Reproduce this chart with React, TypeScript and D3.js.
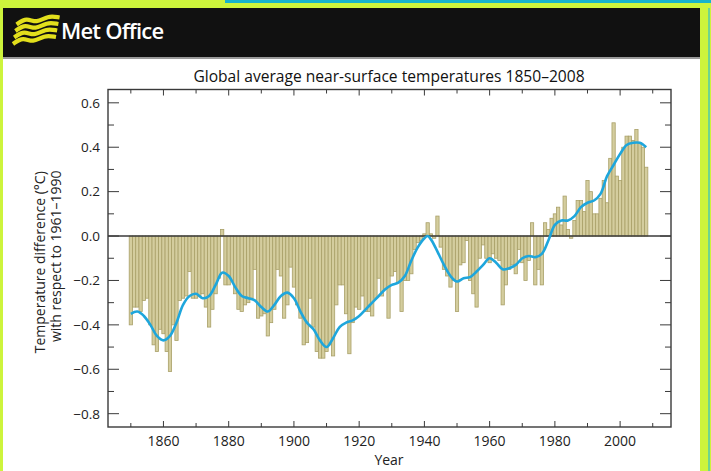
import React from "react";
import * as d3 from "d3";

// annual global anomalies (°C vs 1961-1990), one per year from 1850
const firstYear = 1850;
const anomalies = [
  -0.40, -0.32, -0.32, -0.34, -0.29, -0.28, -0.40, -0.49, -0.52, -0.42,
  -0.44, -0.52, -0.61, -0.40, -0.47, -0.29, -0.28, -0.27, -0.16, -0.28,
  -0.28, -0.27, -0.26, -0.32, -0.41, -0.33, -0.26, -0.19, 0.03, -0.22,
  -0.22, -0.20, -0.26, -0.33, -0.34, -0.31, -0.30, -0.28, -0.15, -0.37,
  -0.36, -0.35, -0.45, -0.39, -0.33, -0.15, -0.18, -0.37, -0.31, -0.14,
  -0.23, -0.31, -0.37, -0.49, -0.48, -0.28, -0.41, -0.52, -0.55, -0.55,
  -0.52, -0.49, -0.54, -0.31, -0.22, -0.22, -0.35, -0.53, -0.39, -0.32,
  -0.33, -0.27, -0.34, -0.34, -0.36, -0.28, -0.19, -0.27, -0.24, -0.37,
  -0.18, -0.16, -0.21, -0.34, -0.20, -0.20, -0.17, -0.06, -0.03, -0.02,
  0.01, 0.06, 0.01, -0.01, 0.09, -0.05, -0.15, -0.18, -0.23, -0.20,
  -0.34, -0.13, -0.12, -0.02, -0.20, -0.26, -0.32, -0.10, -0.04, -0.10,
  -0.12, -0.08, -0.10, -0.11, -0.31, -0.22, -0.15, -0.13, -0.17, -0.06,
  -0.12, -0.20, -0.11, 0.06, -0.22, -0.15, -0.22, 0.06, 0.03, 0.08,
  0.10, 0.13, 0.05, 0.18, 0.03, -0.01, 0.07, 0.16, 0.16, 0.11,
  0.25, 0.20, 0.10, 0.10, 0.17, 0.25, 0.15, 0.35, 0.51, 0.27,
  0.25, 0.40, 0.45, 0.45, 0.43, 0.48, 0.42, 0.40, 0.31,
];

// smoothed curve
const smoothYears = [
  1850, 1852, 1854, 1856, 1858, 1860, 1862, 1864, 1866, 1868, 1870, 1872, 1874,
  1876, 1878, 1880, 1882, 1884, 1886, 1888, 1890, 1892, 1894, 1896, 1898, 1900,
  1902, 1904, 1906, 1908, 1910, 1912, 1914, 1916, 1918, 1920, 1922, 1924, 1926,
  1928, 1930, 1932, 1934, 1936, 1938, 1940, 1941, 1942, 1944, 1946, 1948, 1950,
  1952, 1954, 1956, 1958, 1960, 1962, 1964, 1966, 1968, 1970, 1972, 1974, 1976,
  1978, 1980, 1982, 1984, 1986, 1988, 1990, 1992, 1994, 1996, 1998, 2000, 2002,
  2004, 2006, 2008,
];
const smoothValues = [
  -0.35, -0.34, -0.36, -0.40, -0.45, -0.47, -0.45, -0.39, -0.31, -0.27, -0.26,
  -0.28, -0.27, -0.22, -0.165, -0.18, -0.23, -0.27, -0.28, -0.29, -0.32, -0.34,
  -0.31, -0.27, -0.255, -0.28, -0.34, -0.39, -0.42, -0.47, -0.50, -0.46, -0.41,
  -0.39, -0.38, -0.36, -0.33, -0.30, -0.27, -0.24, -0.22, -0.21, -0.18, -0.11,
  -0.05, -0.01, 0.0, -0.015, -0.07, -0.13, -0.18, -0.205, -0.19, -0.185, -0.16,
  -0.13, -0.10, -0.12, -0.15, -0.145, -0.13, -0.10, -0.09, -0.095, -0.08, -0.02,
  0.05, 0.07, 0.07, 0.09, 0.13, 0.15, 0.16, 0.19, 0.27, 0.32, 0.37, 0.41, 0.42,
  0.42, 0.40,
];

const yMajorTicks = [0.6, 0.4, 0.2, 0.0, -0.2, -0.4, -0.6, -0.8];
const yMinorTicks = [0.5, 0.3, 0.1, -0.1, -0.3, -0.5, -0.7];
const xMajorTicks = [1860, 1880, 1900, 1920, 1940, 1960, 1980, 2000];
const xMinorTicks = [1850, 1870, 1890, 1910, 1930, 1950, 1970, 1990, 2010];

const frame = { left: 108, right: 671, top: 89.5, bottom: 427 };
const font = "'Open Sans', 'DejaVu Sans', sans-serif";
const lime = "#cdf43c";
const axisColor = "#3a3a3a";

const fmt = (v: number) => (v < 0 ? "\u2212" : "") + Math.abs(v).toFixed(1);

export default function App() {
  const x = d3.scaleLinear().domain([1843, 2015.6]).range([frame.left, frame.right]);
  const y = d3.scaleLinear().domain([-0.86, 0.66]).range([frame.bottom, frame.top]);
  const bw = x(firstYear + 1) - x(firstYear);

  const curve = d3
    .line<number>()
    .x((_, i) => x(smoothYears[i]))
    .y((d) => y(d))
    .curve(d3.curveCatmullRom.alpha(0.5));

  // logo stripes (decoration)
  const wave = d3.line<[number, number]>().curve(d3.curveBasis);
  const stripes = [0, 1, 2, 3].map((i) => {
    const ox = 13 + i * 1.2;
    const oy = 44 - i * 6.5;
    return wave([
      [ox, oy],
      [ox + 10, oy - 7],
      [ox + 20, oy - 1],
      [ox + 31, oy - 9],
      [ox + 43, oy - 7],
    ]);
  });

  const midY = (frame.top + frame.bottom) / 2 + 4;

  return (
    <svg
      width={711}
      height={471}
      style={{ position: "absolute", left: 0, top: 0, display: "block" }}
      fontFamily={font}
    >
      <rect x={0} y={0} width={711} height={471} fill={lime} />
      <rect x={225} y={0} width={486} height={3} fill="#17b3cc" />
      <rect x={3} y={8} width={697} height={463} fill="#ffffff" />
      <rect x={3} y={8} width={697} height={49} fill="#111111" />
      <rect x={3} y={57} width={697} height={2} fill="#9a9a9a" />
      <rect x={708} y={8} width={2} height={463} fill="#2fc0c8" opacity={0.6} />

      {/* logo */}
      {stripes.map((d, i) => (
        <path key={i} d={d || ""} fill="none" stroke="#e2df1c" strokeWidth={4.2} />
      ))}
      <text x={61} y={39} fill="#ffffff" fontSize={22} fontWeight={600} letterSpacing={-0.8}>
        Met Office
      </text>

      {/* title */}
      <text x={389} y={82} textAnchor="middle" fontSize={15.6} fill="#111">
        Global average near-surface temperatures 1850–2008
      </text>

      {/* bars */}
      <g>
        {anomalies.map((v, i) => {
          const yr = firstYear + i;
          const y0 = y(Math.max(0, v));
          const h = Math.abs(y(v) - y(0));
          return (
            <rect
              key={yr}
              x={x(yr) - bw / 2}
              y={y0}
              width={bw}
              height={h}
              fill="#d4cd9e"
              stroke="#a9a068"
              strokeWidth={0.8}
            />
          );
        })}
      </g>

      {/* zero line */}
      <line x1={frame.left} x2={frame.right} y1={y(0)} y2={y(0)} stroke={axisColor} strokeWidth={1.6} />

      {/* smoothed curve */}
      <path d={curve(smoothValues) || ""} fill="none" stroke="#1ea6dc" strokeWidth={2.6} />

      {/* frame */}
      <rect
        x={frame.left}
        y={frame.top}
        width={frame.right - frame.left}
        height={frame.bottom - frame.top}
        fill="none"
        stroke={axisColor}
        strokeWidth={1.4}
      />

      {/* y ticks */}
      {yMajorTicks.map((t) => (
        <g key={"ym" + t}>
          <line x1={frame.left} x2={frame.left + 11} y1={y(t)} y2={y(t)} stroke={axisColor} strokeWidth={1} />
          <line x1={frame.right} x2={frame.right - 11} y1={y(t)} y2={y(t)} stroke={axisColor} strokeWidth={1} />
          <text x={100} y={y(t)} dy="0.36em" textAnchor="end" fontSize={13.5} fill="#222">
            {fmt(t)}
          </text>
        </g>
      ))}
      {yMinorTicks.map((t) => (
        <g key={"yn" + t}>
          <line x1={frame.left} x2={frame.left + 6} y1={y(t)} y2={y(t)} stroke={axisColor} strokeWidth={1} />
          <line x1={frame.right} x2={frame.right - 6} y1={y(t)} y2={y(t)} stroke={axisColor} strokeWidth={1} />
        </g>
      ))}

      {/* x ticks */}
      {xMajorTicks.map((t) => (
        <g key={"xm" + t}>
          <line x1={x(t)} x2={x(t)} y1={frame.bottom} y2={frame.bottom - 6} stroke={axisColor} strokeWidth={1} />
          <line x1={x(t)} x2={x(t)} y1={frame.top} y2={frame.top + 6} stroke={axisColor} strokeWidth={1} />
          <text x={x(t)} y={446} textAnchor="middle" fontSize={14} fill="#222">
            {t}
          </text>
        </g>
      ))}
      {xMinorTicks.map((t) => (
        <g key={"xn" + t}>
          <line x1={x(t)} x2={x(t)} y1={frame.bottom} y2={frame.bottom - 4} stroke={axisColor} strokeWidth={1} />
          <line x1={x(t)} x2={x(t)} y1={frame.top} y2={frame.top + 4} stroke={axisColor} strokeWidth={1} />
        </g>
      ))}

      {/* axis titles */}
      <text x={389} y={465} textAnchor="middle" fontSize={14} fill="#222">
        Year
      </text>
      <text transform={`translate(45,${midY}) rotate(-90)`} textAnchor="middle" fontSize={14} fill="#222">
        Temperature difference (°C)
      </text>
      <text transform={`translate(61,${midY - 6}) rotate(-90)`} textAnchor="middle" fontSize={14} fill="#222">
        with respect to 1961–1990
      </text>
    </svg>
  );
}
